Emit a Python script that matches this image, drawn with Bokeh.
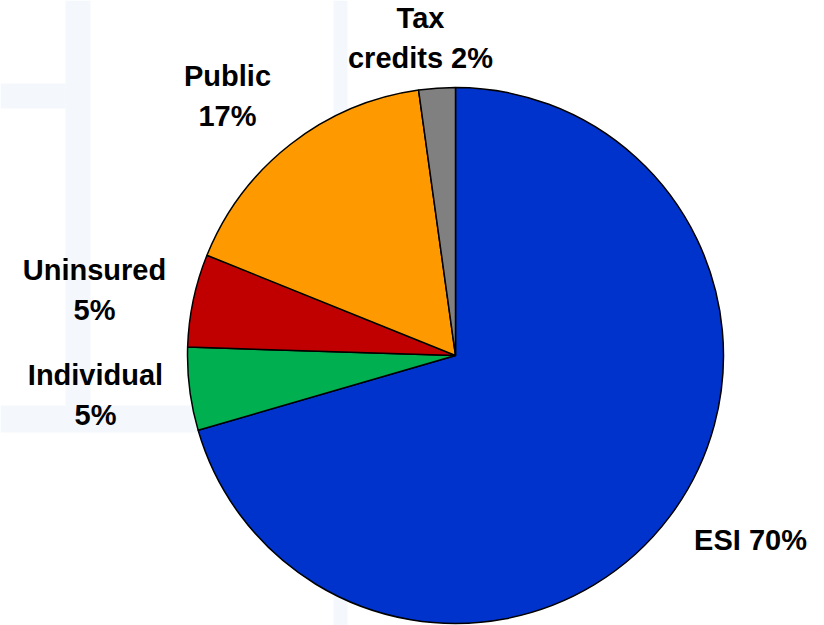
import math
from bokeh.plotting import figure
from bokeh.models import Range1d, ColumnDataSource
from bokeh.core.properties import value
from bokeh.embed import file_html
from bokeh.resources import INLINE

# ---- data ----
categories = ["ESI", "Individual", "Uninsured", "Public", "Tax credits"]
shares = [70.5, 5.0, 5.6, 16.7, 2.2]
colors = ["#0033CC", "#00B050", "#C00000", "#FF9900", "#808080"]
label_lines = ["ESI 70%", "Individual\n5%", "Uninsured\n5%", "Public\n17%", "Tax\ncredits 2%"]

W, H = 824, 625
p = figure(width=W, height=H, x_range=Range1d(0, W), y_range=Range1d(0, H),
           output_backend="svg", toolbar_location=None, min_border=0)
p.axis.visible = False
p.grid.visible = False
p.outline_line_color = None
p.background_fill_color = "white"
p.border_fill_color = "white"

def Y(y):
    return H - y

# faint slide background bands
band = "#f4f7fb"
bands = [(65, 90, 0, 405), (0, 65, 83, 108), (0, 200, 405, 432),
         (333, 347, 0, 120), (333, 347, 595, 625)]
p.quad(left=[b[0] for b in bands], right=[b[1] for b in bands],
       top=[Y(b[2]) for b in bands], bottom=[Y(b[3]) for b in bands],
       fill_color=band, line_color=None)

# pie
cx, cy, r = 455, Y(355), 268
total = sum(shares)
starts, ends = [], []
cum = 0.0
for s in shares:
    starts.append(math.pi / 2 - 2 * math.pi * cum / total)
    cum += s
    ends.append(math.pi / 2 - 2 * math.pi * cum / total)
src = ColumnDataSource(dict(start=starts, end=ends, color=colors, cat=categories))
p.wedge(x=cx, y=cy, radius=r, start_angle="start", end_angle="end",
        direction="clock", fill_color="color", line_color="black", line_width=1.5,
        source=src)

# labels (center x, top y of first line)
label_pos = [(750, 523), (95, 358), (94, 253), (227, 59), (420, 1)]
lx = [pt[0] for pt in label_pos]
ly = [Y(pt[1]) for pt in label_pos]
p.text(x=lx, y=ly, text=label_lines, text_align="center", text_baseline="top",
       text_font=value("Liberation Sans"), text_font_style="bold",
       text_font_size="29px", text_color="black", text_line_height=1.28)

open("out.html", "w").write(file_html(p, INLINE))
